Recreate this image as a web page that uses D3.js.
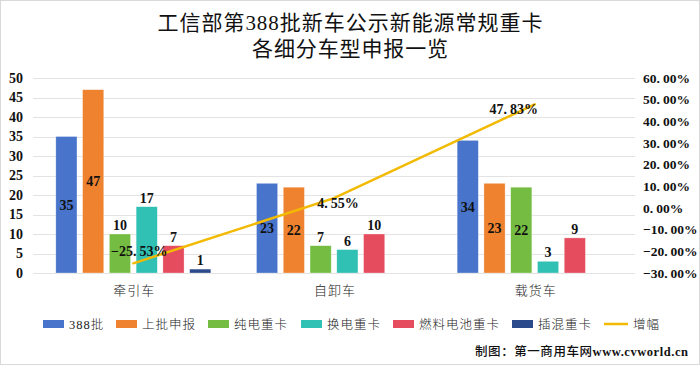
<!DOCTYPE html>
<html><head><meta charset="utf-8">
<script src="https://cdn.jsdelivr.net/npm/d3@7"></script>
<style>
html,body{margin:0;padding:0;background:#fff;}
svg{display:block;}
</style></head>
<body>
<script>
const categories = ["牵引车", "自卸车", "载货车"];
const seriesNames = ["388批", "上批申报", "纯电重卡", "换电重卡", "燃料电池重卡", "插混重卡"];
const s388 = [35, 23, 34];
const sPrev = [47, 22, 23];
const sBEV = [10, 7, 22];
const sSwap = [17, 6, 3];
const sFuel = [7, 10, 9];
const sHybrid = [1, null, null];
const growth = [-25.53, 4.55, 47.83];
const lineName = "增幅";
const leftTicks = [0, 5, 10, 15, 20, 25, 30, 35, 40, 45, 50];
const rightTicks = [-30, -20, -10, 0, 10, 20, 30, 40, 50, 60];
const titleLines = ["工信部第388批新车公示新能源常规重卡", "各细分车型申报一览"];
const creditCn = "制图：第一商用车网";
const creditUrl = "www.cvworld.cn";

const seriesValues = [s388, sPrev, sBEV, sSwap, sFuel, sHybrid];
const colors = ["#4874CB", "#EE822F", "#75BD42", "#30C0B4", "#E54C5E", "#2B4A8B"];
const lineColor = "#F2BA02";
const numFont = "'Liberation Serif','Noto Sans CJK SC',serif";
const cjkFont = "'Liberation Serif','Noto Sans CJK SC',serif";

const W = 700, H = 365;
const svg = d3.select("body").append("svg").attr("width", W).attr("height", H);
svg.append("rect").attr("x", 0.5).attr("y", 0.5).attr("width", W - 1).attr("height", H - 1)
  .attr("fill", "#fff").attr("stroke", "#d9d9d9");

// title
const tLens = [385, 196];
svg.selectAll("text.title").data(titleLines).join("text")
  .attr("class", "title")
  .attr("x", 350).attr("y", (d, i) => 30 + i * 25.5)
  .attr("text-anchor", "middle")
  .attr("font-family", cjkFont).attr("font-size", 21)
  .attr("textLength", (d, i) => tLens[i]).attr("lengthAdjust", "spacing")
  .attr("fill", "#111")
  .text(d => d);

const plotL = 33, plotR = 635, yBottom = 273, yTop = 78;
const x0 = d3.scaleBand().domain(categories).range([plotL, plotR]).padding(0);
const bw = x0.bandwidth();
const innerW = 155;
const x1 = d3.scaleBand().domain(d3.range(seriesNames.length))
  .range([(bw - innerW) / 2, (bw + innerW) / 2]).paddingInner(0.21).paddingOuter(0);
const y = d3.scaleLinear().domain([0, 50]).range([yBottom, yTop]);
const yR = d3.scaleLinear().domain([-30, 60]).range([yBottom, yTop]);

const pct = d => d3.format(".2f")(d) + "%";
// render "12.34%" with a wider gap after the period (as in the original font)
function writePct(sel) {
  sel.each(function(d) {
    const s = pct(d);
    const k = s.indexOf(".") + 1;
    const t = d3.select(this);
    t.text(null);
    t.append("tspan").text(s.slice(0, k));
    t.append("tspan").attr("dx", 3).text(s.slice(k));
  });
}

// gridlines
svg.append("g").selectAll("line").data(leftTicks).join("line")
  .attr("x1", plotL).attr("x2", plotR)
  .attr("y1", d => Math.round(y(d)) + 0.5).attr("y2", d => Math.round(y(d)) + 0.5)
  .attr("stroke", "#e3e3e3").attr("stroke-width", 1);

// left axis
const axL = svg.append("g").attr("transform", `translate(${plotL},0)`)
  .call(d3.axisLeft(y).tickValues(leftTicks).tickSize(0).tickPadding(10).tickFormat(d3.format("d")));
axL.select(".domain").remove();
axL.selectAll("text").attr("font-family", numFont).attr("font-size", 14).attr("font-weight", "bold").attr("fill", "#111");

// right axis
const axR = svg.append("g").attr("transform", `translate(${plotR},0)`)
  .call(d3.axisRight(yR).tickValues(rightTicks).tickSize(0).tickPadding(8).tickFormat(pct));
axR.select(".domain").remove();
axR.selectAll("text").attr("font-family", numFont).attr("font-size", 13.5).attr("font-weight", "bold")
  .attr("fill", "#111").call(writePct);

// bars
const barData = [];
categories.forEach((c, ci) => {
  seriesValues.forEach((arr, si) => {
    if (arr[ci] != null) barData.push({ c, ci, si, v: arr[ci] });
  });
});
const bars = svg.append("g");
bars.selectAll("rect").data(barData).join("rect")
  .attr("x", d => x0(d.c) + x1(d.si))
  .attr("width", x1.bandwidth())
  .attr("y", d => y(d.v))
  .attr("height", d => y(0) - y(d.v))
  .attr("fill", d => colors[d.si])
  .attr("stroke", "#fff").attr("stroke-opacity", 0.5).attr("stroke-width", 0.6);

// category labels
svg.append("g").selectAll("text").data(categories).join("text")
  .attr("x", d => x0(d) + bw / 2 + 1).attr("y", 295)
  .attr("text-anchor", "middle")
  .attr("font-family", cjkFont).attr("font-size", 13).attr("font-weight", 300).attr("letter-spacing", 1)
  .attr("fill", "#222").text(d => d);

// line
const lineGen = d3.line().x((d, i) => x0(categories[i]) + bw / 2).y(d => yR(d));
svg.append("path").datum(growth).attr("d", lineGen)
  .attr("fill", "none").attr("stroke", lineColor).attr("stroke-width", 2.5).attr("stroke-linecap", "round");

// bar labels
svg.append("g").selectAll("text").data(barData).join("text")
  .attr("x", d => x0(d.c) + x1(d.si) + x1.bandwidth() / 2)
  .attr("y", d => d.v >= 20 ? (y(d.v) + y(0)) / 2 + 5 : y(d.v) - 4)
  .attr("text-anchor", "middle")
  .attr("font-family", numFont).attr("font-size", 14).attr("font-weight", "bold")
  .attr("fill", "#111").text(d => d.v);

// line labels
const lineLabelShift = [[6, -7], [4, 10], [-21, 10]];
svg.append("g").selectAll("text").data(growth).join("text")
  .attr("x", (d, i) => x0(categories[i]) + bw / 2 + lineLabelShift[i][0])
  .attr("y", (d, i) => yR(d) + lineLabelShift[i][1])
  .attr("text-anchor", "middle")
  .attr("font-family", numFont).attr("font-size", 14).attr("font-weight", "bold")
  .attr("fill", "#111").call(writePct);

// legend
const legX = [43, 116, 208, 301, 393, 512];
const lg = svg.append("g");
seriesNames.forEach((n, i) => {
  lg.append("rect").attr("x", legX[i]).attr("y", 320).attr("width", 21).attr("height", 8).attr("fill", colors[i]);
  lg.append("text").attr("x", legX[i] + 26).attr("y", 329)
    .attr("font-family", cjkFont).attr("font-size", 12.5).attr("font-weight", 300).attr("letter-spacing", 1)
    .attr("fill", "#222").text(n);
});
lg.append("line").attr("x1", 604).attr("x2", 628).attr("y1", 324).attr("y2", 324)
  .attr("stroke", lineColor).attr("stroke-width", 2.5);
lg.append("text").attr("x", 633).attr("y", 329)
  .attr("font-family", cjkFont).attr("font-size", 12.5).attr("font-weight", 300).attr("letter-spacing", 1)
  .attr("fill", "#222").text(lineName);

// credit
const cr = svg.append("text").attr("x", 475).attr("y", 356)
  .attr("font-family", cjkFont).attr("font-size", 12.5)
  .attr("textLength", 213).attr("lengthAdjust", "spacing")
  .attr("fill", "#111");
cr.append("tspan").attr("font-weight", 500).text(creditCn);
cr.append("tspan").attr("font-weight", "bold").text(creditUrl);
</script>
</body></html>
